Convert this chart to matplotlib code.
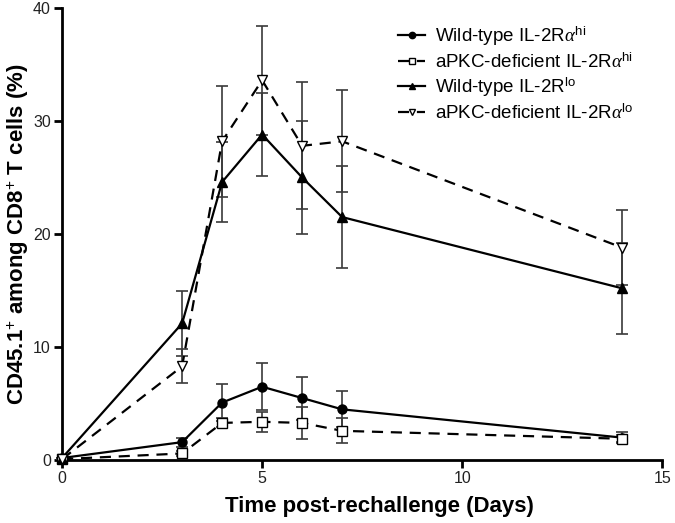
import matplotlib
matplotlib.use("Agg")
import matplotlib.pyplot as plt

plt.rcParams['font.family'] = ['Liberation Sans', 'DejaVu Sans']
plt.rcParams['mathtext.fontset'] = 'custom'
plt.rcParams['mathtext.rm'] = 'Liberation Sans'
plt.rcParams['mathtext.it'] = 'Liberation Serif:italic'
plt.rcParams['mathtext.bf'] = 'Liberation Sans:bold'

days = [0, 3, 4, 5, 6, 7, 14]

wt_hi = [0.2, 1.6, 5.1, 6.5, 5.5, 4.5, 2.0]
wt_hi_err = [0.0, 0.4, 1.6, 2.1, 1.9, 1.6, 0.5]

ko_hi = [0.1, 0.6, 3.3, 3.4, 3.3, 2.6, 1.9]
ko_hi_err = [0.0, 0.2, 0.4, 0.9, 1.4, 1.1, 0.3]

wt_lo = [0.2, 12.1, 24.6, 28.8, 25.0, 21.5, 15.2]
wt_lo_err = [0.0, 2.9, 3.5, 3.7, 5.0, 4.5, 4.0]

ko_lo = [0.1, 8.3, 28.2, 33.6, 27.8, 28.2, 18.8]
ko_lo_err = [0.0, 1.5, 4.9, 4.8, 5.6, 4.5, 3.3]

labels = [r'Wild-type IL-2R$\mathit{\alpha}^{\mathrm{hi}}$',
          r'aPKC-deficient IL-2R$\mathit{\alpha}^{\mathrm{hi}}$',
          r'Wild-type IL-2R$^{\mathrm{lo}}$',
          r'aPKC-deficient IL-2R$\mathit{\alpha}^{\mathrm{lo}}$']

fig = plt.figure(figsize=(6.75, 5.23), dpi=100)
ax = fig.add_axes([0.092, 0.12, 0.889, 0.865])

series = [
    (wt_hi, wt_hi_err, 'o', '-', 'black', labels[0]),
    (ko_hi, ko_hi_err, 's', '--', 'white', labels[1]),
    (wt_lo, wt_lo_err, '^', '-', 'black', labels[2]),
    (ko_lo, ko_lo_err, 'v', '--', 'white', labels[3]),
]

handles = []
for y, e, m, ls, fc, lab in series:
    ax.errorbar(days, y, yerr=e, fmt='none', ecolor='#3a3a3a',
                elinewidth=1.2, capsize=4.3, capthick=1.2, clip_on=False, zorder=2)
    ln, = ax.plot(days, y, linestyle=ls, color='black', lw=1.6,
                  marker=m, markersize=6.5,
                  markerfacecolor=fc, markeredgecolor='black', markeredgewidth=1,
                  dashes=(5, 3.5) if ls == '--' else (None, None),
                  label=lab, clip_on=False, zorder=3)
    handles.append(ln)

ax.set_xlim(0, 15)
ax.set_ylim(0, 40)
ax.set_xticks([0, 5, 10, 15])
ax.set_yticks([0, 10, 20, 30, 40])
for s in ['top', 'right']:
    ax.spines[s].set_visible(False)
for s in ['left', 'bottom']:
    ax.spines[s].set_linewidth(2)
ax.tick_params(axis='both', direction='out', length=6, width=2, labelsize=11.5,
               labelcolor='#222222', pad=2)

ax.set_xlabel('Time post-rechallenge (Days)', fontsize=16, fontweight='bold')
ax.xaxis.set_label_coords(0.528, -0.080)
ax.set_ylabel(r'CD45.1$^{+}$ among CD8$^{+}$ T cells (%)',
              fontsize=16, fontweight='bold')
ax.yaxis.set_label_coords(-0.052, 0.5)

leg = fig.legend(handles=handles, loc='upper left', bbox_to_anchor=(0.590, 0.953),
                 frameon=False, fontsize=13.5, handlelength=1.45, markerscale=0.7,
                 handletextpad=0.5, labelspacing=0.22, borderpad=0, borderaxespad=0)

fig.savefig('out.png', dpi=100)
